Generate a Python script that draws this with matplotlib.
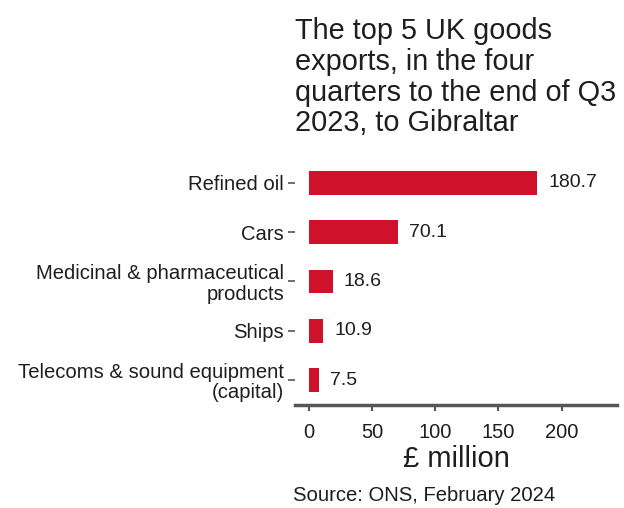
import matplotlib.pyplot as plt

plt.rcParams['font.family'] = ['Liberation Sans', 'DejaVu Sans']

categories = ['Refined oil', 'Cars', 'Medicinal & pharmaceutical\nproducts',
              'Ships', 'Telecoms & sound equipment\n(capital)']
values = [180.7, 70.1, 18.6, 10.9, 7.5]
xticks = [0, 50, 100, 150, 200]

bar_color = '#d0112b'
axis_color = '#555555'

fig = plt.figure(figsize=(6.24, 5.08), dpi=100)
ax = fig.add_axes([0.473, 0.203, 0.516, 0.486])

ypos = list(range(len(categories)))
ax.barh(ypos, values, height=0.48, color=bar_color)
for y, v in zip(ypos, values):
    ax.text(v + 9, y, f'{v:.1f}', va='center', ha='left', fontsize=14, color='#1e1e1e')

ax.set_ylim(4.5, -0.5)
ax.set_xlim(-11, 244)
ax.set_yticks(ypos)
ax.set_yticklabels(categories, fontsize=14.6, color='#1e1e1e', linespacing=1.08)
ax.set_xticks(xticks)
ax.set_xticklabels([str(t) for t in xticks], fontsize=14.5, color='#1e1e1e')
ax.tick_params(axis='y', length=5, width=1.2, color=axis_color, pad=3)
ax.tick_params(axis='x', length=4, width=1.5, color=axis_color, pad=9)

for s in ['top', 'right', 'left']:
    ax.spines[s].set_visible(False)
ax.spines['bottom'].set_color(axis_color)
ax.spines['bottom'].set_linewidth(2.5)

ax.set_xlabel('£ million', fontsize=21, color='#1e1e1e', labelpad=2)

fig.text(0.473, 0.966, 'The top 5 UK goods\nexports, in the four\nquarters to the end of Q3\n2023, to Gibraltar',
         fontsize=20.8, va='top', ha='left', color='#1e1e1e', linespacing=1.12)
fig.text(0.469, 0.005, 'Source: ONS, February 2024', fontsize=14.6, ha='left', va='bottom', color='#1e1e1e')

fig.savefig('out.png', dpi=100)
